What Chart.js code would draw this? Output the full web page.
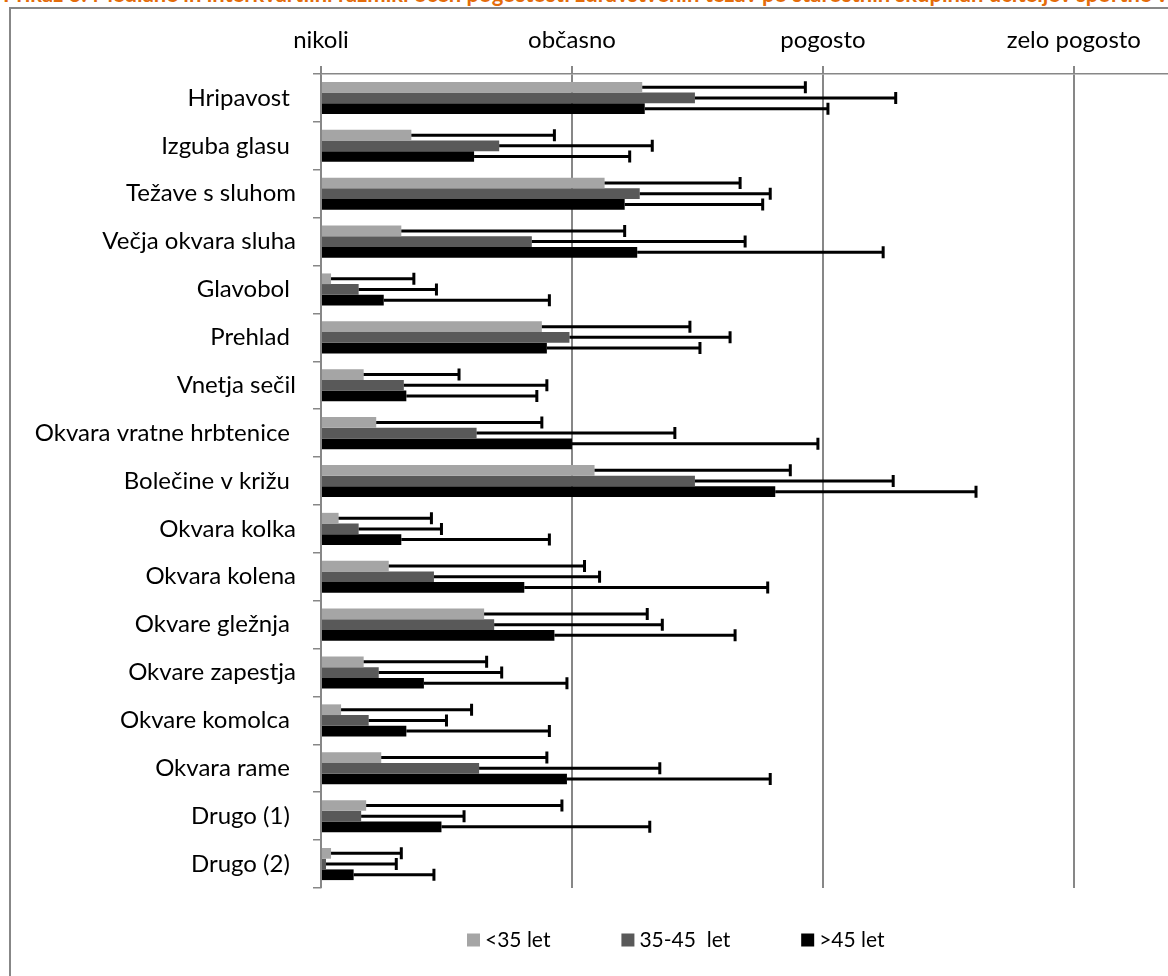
<!DOCTYPE html>
<html>
<head>
<meta charset="utf-8">
<script src="https://cdn.jsdelivr.net/npm/chart.js@4.4.1/dist/chart.umd.min.js"></script>
<style>
  html, body { margin: 0; padding: 0; overflow: hidden; background: #fff; }
  #title { position: absolute; left: 3px; top: -17px; font: bold 22px Lato, sans-serif; line-height: 22px; color: #E46C0A; white-space: nowrap; }
  #frame { position: absolute; left: 9px; top: 7px; width: 2000px; height: 2000px; border: 2px solid #878787; }
  #wrap { position: absolute; left: 0; top: 0; width: 1168px; height: 976px; }
</style>
</head>
<body>
<div id="title">Prikaz 3: Mediane in interkvartilni razmiki ocen pogostosti zdravstvenih težav po starostnih skupinah učiteljev športne vzgoje</div>
<div id="frame"></div>
<div id="wrap"><canvas id="chart"></canvas></div>
<script>
const FONT = 'Lato, Carlito, Calibri, sans-serif';

const categories = [
  'Hripavost ', 'Izguba glasu ', 'Težave s sluhom', 'Večja okvara sluha', 'Glavobol ',
  'Prehlad ', 'Vnetja sečil', 'Okvara vratne hrbtenice ', 'Bolečine v križu ', 'Okvara kolka',
  'Okvara kolena', 'Okvare gležnja ', 'Okvare zapestja', 'Okvare komolca ', 'Okvara rame ',
  'Drugo (1) ', 'Drugo (2) '
];
const frequencyLabels = ['nikoli', 'občasno', 'pogosto', 'zelo pogosto'];
const seriesLabels = ['<35 let', '35-45  let', '>45 let'];
const seriesColors = ['#A5A5A5', '#595959', '#000000'];

// medians (bar ends)
const medianUnder35 = [1.28, 0.36, 1.13, 0.32, 0.04, 0.88, 0.17, 0.22, 1.09, 0.07, 0.27, 0.65, 0.17, 0.08, 0.24, 0.18, 0.04];
const median35to45  = [1.49, 0.71, 1.27, 0.84, 0.15, 0.99, 0.33, 0.62, 1.49, 0.15, 0.45, 0.69, 0.23, 0.19, 0.63, 0.16, 0.02];
const medianOver45  = [1.29, 0.61, 1.21, 1.26, 0.25, 0.90, 0.34, 1.00, 1.81, 0.32, 0.81, 0.93, 0.41, 0.34, 0.98, 0.48, 0.13];

// upper quartiles (error bar ends)
const q3Under35 = [1.93, 0.93, 1.67, 1.21, 0.37, 1.47, 0.55, 0.88, 1.87, 0.44, 1.05, 1.30, 0.66, 0.60, 0.90, 0.96, 0.32];
const q335to45  = [2.29, 1.32, 1.79, 1.69, 0.46, 1.63, 0.90, 1.41, 2.28, 0.48, 1.11, 1.36, 0.72, 0.50, 1.35, 0.57, 0.30];
const q3Over45  = [2.02, 1.23, 1.76, 2.24, 0.91, 1.51, 0.86, 1.98, 2.61, 0.91, 1.78, 1.65, 0.98, 0.91, 1.79, 1.31, 0.45];

const medians = [medianUnder35, median35to45, medianOver45];
const upperQuartiles = [q3Under35, q335to45, q3Over45];

// whiskers from the median out to the upper quartile
const errorBars = {
  id: 'errorBars',
  afterDatasetsDraw(chart) {
    const ctx = chart.ctx;
    const xScale = chart.scales.x;
    ctx.save();
    ctx.strokeStyle = '#000';
    ctx.lineWidth = 3;
    chart.data.datasets.forEach((ds, i) => {
      const meta = chart.getDatasetMeta(i);
      meta.data.forEach((bar, j) => {
        const x0 = xScale.getPixelForValue(ds.data[j]);
        const x1 = xScale.getPixelForValue(ds.upper[j]);
        ctx.beginPath();
        ctx.moveTo(x0, bar.y);
        ctx.lineTo(x1, bar.y);
        ctx.moveTo(x1, bar.y - 6);
        ctx.lineTo(x1, bar.y + 6);
        ctx.stroke();
      });
    });
    ctx.restore();
  }
};

// legend row under the plot
const bottomLegend = {
  id: 'bottomLegend',
  afterDraw(chart) {
    const ctx = chart.ctx;
    const y = 940;
    let x = 467;
    ctx.save();
    ctx.font = '21px ' + FONT;
    ctx.textBaseline = 'middle';
    chart.data.datasets.forEach(ds => {
      ctx.fillStyle = ds.backgroundColor;
      ctx.fillRect(x, y - 6.5, 13, 13);
      ctx.fillStyle = '#000';
      ctx.fillText(ds.label, x + 18, y);
      x += 18 + ctx.measureText(ds.label).width + 71;
    });
    ctx.restore();
  }
};

const datasets = seriesLabels.map((label, i) => ({
  label: label,
  data: medians[i],
  upper: upperQuartiles[i],
  backgroundColor: seriesColors[i],
  borderWidth: 0,
  categoryPercentage: 0.67,
  barPercentage: 1.0
}));

new Chart(document.getElementById('chart'), {
  type: 'bar',
  data: { labels: categories, datasets: datasets },
  options: {
    indexAxis: 'y',
    responsive: true,
    maintainAspectRatio: false,
    animation: false,
    layout: { padding: { top: 0, left: 0, right: 0, bottom: 88 } },
    plugins: {
      legend: { display: false },
      tooltip: { enabled: false }
    },
    scales: {
      x: {
        type: 'linear',
        position: 'top',
        min: 0,
        max: 3.375,
        ticks: {
          stepSize: 1,
          includeBounds: false,
          color: '#000',
          padding: 11,
          font: { family: FONT, size: 24 },
          callback: v => frequencyLabels[v]
        },
        grid: { color: '#878787', lineWidth: 2, tickLength: 8 },
        border: { color: '#878787', width: 1.5 },
        afterBuildTicks: s => { s.ticks = s.ticks.filter(t => Number.isInteger(t.value) && t.value <= 3); },
        afterFit: s => { s.height = 74; }
      },
      y: {
        type: 'category',
        position: 'left',
        ticks: {
          color: '#000',
          padding: 17,
          autoSkip: false,
          font: { family: FONT, size: 24 }
        },
        grid: { drawOnChartArea: false, color: '#878787', lineWidth: 1.5, tickLength: 8 },
        border: { color: '#878787', width: 1.5 },
        afterFit: s => { s.width = 321; }
      }
    }
  },
  plugins: [errorBars, bottomLegend]
});
</script>
</body>
</html>
